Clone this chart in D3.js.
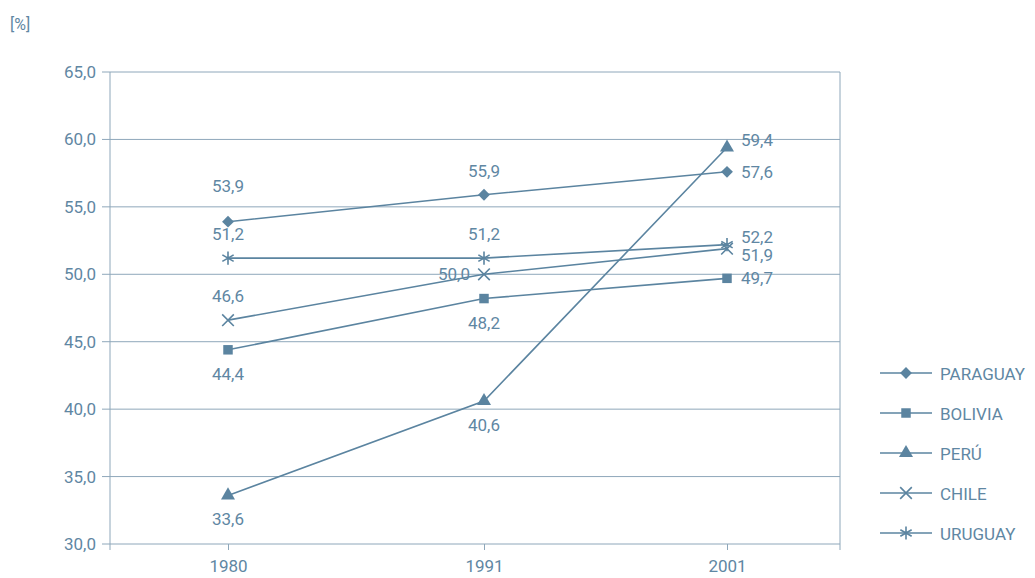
<!DOCTYPE html>
<html><head><meta charset="utf-8">
<script src="https://cdn.jsdelivr.net/npm/d3@7"></script>
<style>body{margin:0;background:#fff}</style>
</head><body>
<svg id="c" width="1035" height="578"></svg>
<script>
const years = [1980, 1991, 2001];
const countries = ["PARAGUAY", "BOLIVIA", "PERÚ", "CHILE", "URUGUAY"];
const paraguay = [53.9, 55.9, 57.6];
const bolivia = [44.4, 48.2, 49.7];
const peru = [33.6, 40.6, 59.4];
const chile = [46.6, 50.0, 51.9];
const uruguay = [51.2, 51.2, 52.2];
const yTicks = [30, 35, 40, 45, 50, 55, 60, 65];

// label placement per point
const place = [
  ["aboveHigh", "above", "right"],
  ["below", "below", "right"],
  ["below", "below", "rightUp"],
  ["above", "left", "rightDown"],
  ["above", "above", "rightUp"]
];
const symbols = [d3.symbolSquare, d3.symbolSquare, d3.symbolTriangle, d3.symbolX, d3.symbolAsterisk];
const sizes = [70, 90, 85, 90, 120];
const filled = [true, true, true, false, false];
const series = [paraguay, bolivia, peru, chile, uruguay];

const col = "#5b84a0", grid = "#8ea7ba", txt = "#5f87a3";
const font = "'Liberation Sans Narrow', 'Roboto', sans-serif";
const svg = d3.select("#c");
const L = 110, R = 840, T = 72, B = 544;

const x = d3.scaleLinear().domain([1975, 1980, 1991, 2001, 2005.6]).range([L, 228, 484, 727, R]);
const y = d3.scaleLinear().domain([30, 65]).range([B, T]);
const fmt = v => d3.format(".1f")(v).replace(".", ",");

svg.append("text").attr("x", 10).attr("y", 30).attr("fill", txt)
  .style("font-family", font).style("font-size", "16px").text("[%]");

// grid
svg.selectAll(".g").data(yTicks).enter().append("line")
  .attr("x1", L - 8).attr("x2", R).attr("y1", d => y(d)).attr("y2", d => y(d))
  .attr("stroke", grid).attr("stroke-width", 1);
svg.append("line").attr("x1", L).attr("x2", L).attr("y1", T).attr("y2", B + 6).attr("stroke", grid);
svg.append("line").attr("x1", R).attr("x2", R).attr("y1", T).attr("y2", B + 6).attr("stroke", grid);
svg.selectAll(".yl").data(yTicks).enter().append("text")
  .attr("x", L - 14).attr("y", d => y(d) + 6).attr("text-anchor", "end").attr("fill", txt)
  .style("font-family", font).style("font-size", "17px").text(fmt);

const xAxis = svg.append("g").attr("transform", `translate(0,${B})`)
  .call(d3.axisBottom(x).tickValues(years).tickFormat(d3.format("d")).tickSize(6).tickPadding(10));
xAxis.select(".domain").remove();
xAxis.selectAll("line").attr("stroke", grid);
xAxis.selectAll("text").attr("fill", txt).style("font-family", font).style("font-size", "17px");

const line = d3.line().x((d, i) => x(years[i])).y(d => y(d));
const off = {above: [0, -18, "middle"], aboveHigh: [0, -30, "middle"], below: [0, 30, "middle"], right: [14, 6, "start"],
  rightUp: [14, -2, "start"], rightDown: [14, 12, "start"], left: [-14, 6, "end"]};

function marker(g, k, cx, cy) {
  g.append("path").attr("d", d3.symbol().type(symbols[k]).size(sizes[k])())
    .attr("transform", `translate(${cx},${cy})` + (k == 0 ? " rotate(45)" : ""))
    .attr("fill", filled[k] ? col : "none").attr("stroke", col).attr("stroke-width", filled[k] ? 0 : 1.6);
}

series.forEach((s, k) => {
  svg.append("path").attr("d", line(s)).attr("fill", "none").attr("stroke", col).attr("stroke-width", 1.6);
  s.forEach((v, i) => {
    marker(svg, k, x(years[i]), y(v));
    const o = off[place[k][i]];
    svg.append("text").attr("x", x(years[i]) + o[0]).attr("y", y(v) + o[1]).attr("text-anchor", o[2])
      .attr("fill", txt).style("font-family", font).style("font-size", "17px").text(fmt(v));
  });
});

// legend
countries.forEach((c, k) => {
  const ly = 373 + k * 40, lx = 880;
  const g = svg.append("g");
  g.append("line").attr("x1", lx).attr("x2", lx + 52).attr("y1", ly).attr("y2", ly).attr("stroke", col).attr("stroke-width", 1.6);
  marker(g, k, lx + 26, ly);
  g.append("text").attr("x", lx + 60).attr("y", ly + 7).attr("fill", txt)
    .style("font-family", font).style("font-size", "17px").text(c);
});
</script>
</body></html>
